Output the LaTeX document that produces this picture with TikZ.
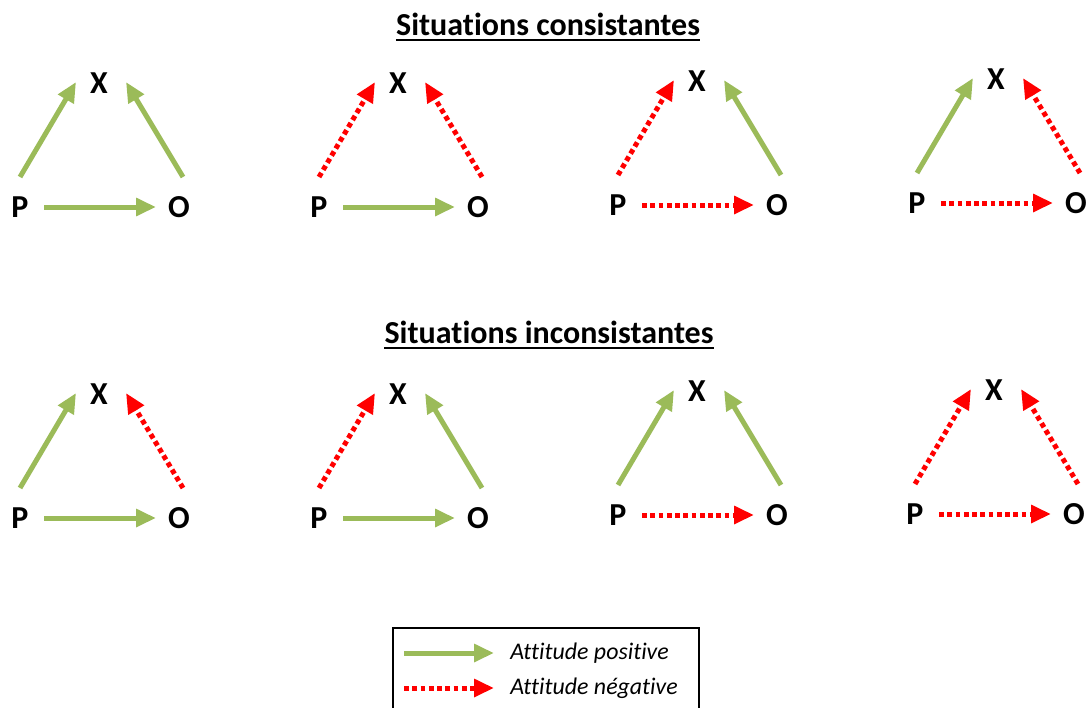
\documentclass[tikz,border=0pt]{standalone}
\usepackage{fontspec}
\setmainfont[Ligatures=NoCommon]{Carlito}
\usetikzlibrary{arrows.meta,calc}
\definecolor{vert}{HTML}{9BBB59}
\tikzset{
  positif/.style={draw=vert, line width=3.75pt, -{Triangle[length=15pt,width=13pt]}},
  negatif/.style={draw=red, line width=3.75pt, dash pattern=on 3.6pt off 2.6pt, -{Triangle[length=15pt,width=13pt]}},
  lbl/.style={font=\fontsize{24}{28}\selectfont\bfseries, inner sep=0pt},
  titre/.style={font=\fontsize{24}{28}\selectfont\bfseries, inner sep=0pt},
  leg/.style={font=\fontsize{17.9}{21}\selectfont\itshape, anchor=west, inner sep=0pt}
}

\begin{document}
\begin{tikzpicture}[x=0.75pt,y=-0.75pt]
  \useasboundingbox (0,0) rectangle (1089,707);
  \node[titre] (t1) at (548,24) {Situations consistantes};
  \draw[line width=1.5pt] ([yshift=-4pt]t1.base west) -- ([yshift=-4pt]t1.base east);
  \node[titre] (t2) at (549,332) {Situations inconsistantes};
  \draw[line width=1.5pt] ([yshift=-4pt]t2.base west) -- ([yshift=-4pt]t2.base east);
  \foreach \n/\x/\y/\a/\b/\c in {1/20/207/positif/positif/positif, 2/319/207/negatif/negatif/positif,
      3/618/205/negatif/positif/negatif, 4/917/203/positif/negatif/negatif, 5/20/518/positif/negatif/positif,
      6/319/518/negatif/positif/positif, 7/618/515/positif/positif/negatif, 8/915/514/negatif/negatif/negatif}{
    \node[lbl] (P\n) at (\x,\y) {P};
    \node[lbl] (X\n) at ($(P\n)+(79,-124)$) {X};
    \node[lbl] (O\n) at ($(P\n)+(159,0)$) {O};
    \draw[\a] ($(P\n)+(0,-30)$) -- ($(X\n)+(-23,-1)$);
    \draw[\b] ($(O\n)+(4,-30)$) -- ($(X\n)+(27,-1)$);
    \draw[\c] ($(P\n)+(24,0)$) -- ($(O\n)+(-23,0)$);
  }
  \draw[line width=1.5pt] (393,628) rectangle (699,712);
  \node[leg] (lp) at (510,653) {Attitude positive};
  \node[leg] (ln) at (510,688) {Attitude négative};
  \coordinate (ap) at (404,653);
  \coordinate (an) at (404,688);
  \draw[positif, shorten >=12pt] (ap) -- (lp.west);
  \draw[negatif, shorten >=12pt] (an) -- (ln.west);
\end{tikzpicture}
\end{document}
